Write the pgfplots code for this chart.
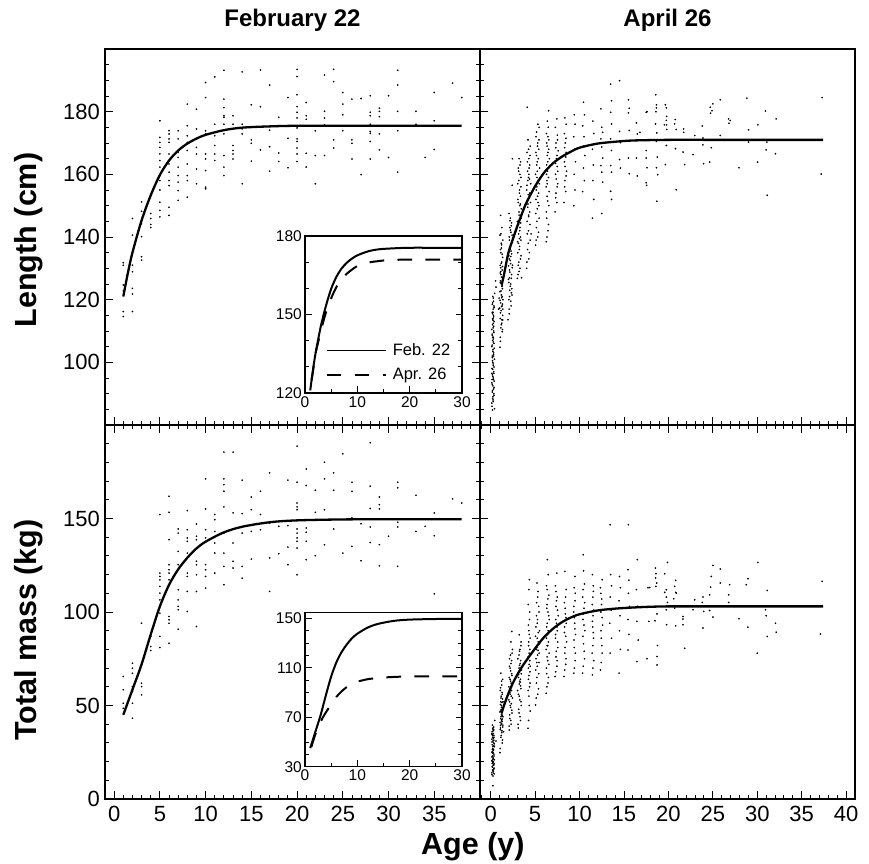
\documentclass[border=0pt]{standalone}
\usepackage{fontspec}
\setmainfont{Liberation Sans}
\usepackage{pgfplots}
\usepackage{pgfplotstable}
\pgfplotsset{compat=1.18}

% ---------- fitted curves ----------
\pgfplotstableread{
x y
1 121
1.5 128.5
2 135
3 145.3
4 153.3
5 159.8
6 164.4
7 167.6
8 169.8
9 171.4
10 172.6
12 174.1
14 174.9
17 175.3
20 175.5
25 175.5
30 175.5
38 175.5
}\febL
\pgfplotstableread{
x y
1.24 124.8
1.5 128
2 135
2.5 139.3
3 143.5
3.5 147.3
4 150.8
5 156.2
6 160.5
7 163.5
8 165.6
9 167.2
10 168.5
12 169.8
14 170.4
16 170.8
20 171
25 171
30 171
37.4 171
}\aprL
\pgfplotstableread{
x y
1 45
2 58.5
3 72
4 88
5 103
6 114.5
7 122.8
8 129
9 134
10 137.6
12 142.6
14 145.6
17 148
20 149
25 149.5
30 149.6
38 149.6
}\febM
\pgfplotstableread{
x y
1.23 46
1.5 50
2 56.5
2.5 62
3 66.5
3.5 70.5
4 74
5 80.5
6 86.5
7 91
8 94.5
9 97
10 98.8
12 100.8
14 101.8
16 102.4
18 102.8
20 103
25 103
30 103
37.4 103
}\aprM

% ---------- individual animals, February ----------
\pgfplotstableread{
x y
1 131.8
1 131.0
1 124.7
1 122.8
1 116.2
1 114.6
2 145.9
2 140.6
2 131.0
2 128.9
2 123.6
2 121.8
2 116.2
3 151.2
3 148.2
3 144.2
3 140.1
3 133.7
3 132.6
4 147.5
4 145.9
4 144.0
4 143.0
5 177.1
5 171.8
5 170.2
5 168.6
5 166.5
5 164.4
5 162.3
5 158
5 155
5 151.1
5 148.5
5 146.4
6 173.9
6 172.9
6 171.3
6 170.2
6 166.5
6 163.3
6 160.7
6 158.0
6 156.4
6 149.5
6 146.9
7 173.9
7 171.3
7 167.0
7 165.4
7 162.3
7 159.6
7 157.5
7 154.8
7 151.7
8 182.4
8 175.5
8 172.3
8 170.2
8 167.6
8 163.3
8 159.6
8 158.0
8 152.7
9 180.8
9 174.5
9 168.6
9 166.5
9 161.7
9 157.0
10 189.3
10 184.5
10 173.9
10 172.9
10 166.5
10 164.9
10 161.2
10 155.9
10 155.4
11 191.1
11 176.0
11 172.3
11 169.2
11 166.5
11 164.4
12 193.2
12 184.0
12 181.3
12 178.7
12 178.2
12 176.0
12 172.9
12 166.0
12 162.3
12 159.6
13 178.7
13 176.0
13 169.2
13 167.6
13 166.5
13 164.9
14 192.7
14 176.0
14 174.5
14 172.9
14 157.0
15 182.2
15 171.0
15 169.9
15 164.2
16 193.3
16 181.6
16 167.8
17 188.5
17 174.1
17 168.8
17 161.0
18 178.2
18 166.8
18 164.1
19 184.5
19 171.5
19 162.1
20 193.5
20 191.2
20 185.4
20 181.6
20 179.8
20 178.0
20 174.8
20 171.3
20 170.5
20 168.4
20 166.5
20 164.1
21 182.9
21 178.7
21 177.6
21 166.7
21 162.3
22 173.9
22 166.0
22 157.0
23 191.7
23 180.1
23 178.0
23 175.8
23 166.0
24 193.5
24 189.6
24 171.0
24 168.4
25 186.1
25 182.4
25 179.0
25 173.9
26 184.0
26 171.0
26 169.9
26 164.9
27 184.2
27 159.9
28 185.1
28 179.8
28 178.7
28 176.0
28 173.7
28 173.1
28 170.5
28 164.9
29 181.1
29 180.1
29 178.4
29 172.9
29 167.8
30 185.1
30 165.4
31 193.2
31 188.5
31 180.1
31 173.9
31 160.7
33 180.1
33 176.0
34 165.4
35 186.1
35 177.1
35 167.9
37 189.1
38 184.5
}\febLpts

\pgfplotstableread{
x y
1 65.5
1 58.4
1 51.2
1 48.5
2 72.6
2 69.9
2 67.2
2 60.1
2 57.5
2 51.2
2 43.2
3 94.0
3 61.9
3 60.1
3 55.7
4 86.9
4 81.5
4 79.4
5 152.1
5 120.8
5 119.0
5 117.2
5 113.7
5 110.1
5 106.5
5 103.0
5 99.4
5 87
5 81
6 161.9
6 153.3
6 138.7
6 125.3
6 122.6
6 120.8
6 117.2
6 97.6
6 95.8
6 94.0
6 83.3
7 144.4
7 142.2
7 132.4
7 125.3
7 122.6
7 111.9
7 106.5
7 103.0
7 101.2
7 90.8
8 154.2
8 144.0
8 139.6
8 137.8
8 131.5
8 120.8
8 119.0
8 111.0
8 100.3
9 147.1
9 140.5
9 138.7
9 127.1
9 125.3
9 119.9
9 111.0
9 92.2
10 171.2
10 155.1
10 144.0
10 139.6
10 125.3
10 122.6
10 119.0
10 112.8
11 152.1
11 149.4
11 143.1
11 136.9
11 131.5
11 120.8
12 185.5
12 171.2
12 168.1
12 164.6
12 156.2
12 142.2
12 131.5
12 124.4
12 114.6
13 185.5
13 153.0
13 136.9
13 127.1
13 123.5
14 170.5
14 152.6
14 142.2
14 124.4
14 118.1
15 161.5
15 154.7
15 143.1
15 128.3
16 164.6
16 152.1
16 144.0
17 174.4
17 147.6
17 128.9
17 111.0
18 145.8
18 131.2
19 170.5
19 146.2
19 134.7
19 125.3
20 188.7
20 169.4
20 158.3
20 156.2
20 154.7
20 144.4
20 142.2
20 139.6
20 137.8
20 134.2
20 119.9
21 176.5
21 167.6
21 144.9
21 142.6
21 137.8
21 128.0
22 165.1
22 153.3
22 130.1
23 180.1
23 171.2
23 154.7
23 136.0
24 174.4
24 165.1
24 144.4
25 184.6
25 131.5
26 169.4
26 164.6
26 150.3
26 135.1
27 147.2
27 127.4
28 190.5
28 167.3
28 155.3
28 145.5
28 137.2
29 161.5
29 157.4
29 155.1
29 136.0
29 124.7
30 140.5
31 169.4
31 166.4
31 148.0
31 145.5
31 124.4
33 162.4
33 143.1
34 145.8
35 153.0
35 140.8
35 109.7
37 160.5
38 158.3
}\febMpts

% ---------- individual animals, April ----------
\pgfplotstableread{
x y
0.15 86
0.30 87.5
0.22 88.5
0.38 89.5
0.18 90.5
0.33 91.5
0.25 92.5
0.12 93.5
0.40 94
0.28 95
0.20 96
0.35 97
0.15 98
0.30 99
0.24 100
0.42 101
0.18 102
0.33 103
0.26 104
0.14 105
0.38 106
0.22 107
0.30 108
0.17 109
0.35 110
0.27 111
0.20 112
0.40 113
0.25 114
0.32 115
0.18 116
0.28 117
0.37 118
0.22 119
0.30 120.5
0.45 122
0.60 124
0.55 126
0.20 100.5
0.36 96.5
0.16 94.5
0.29 106.5
0.34 111.5
0.21 115.5
0.26 89
0.23 97.8
0.31 102.5
0.19 108.6
0.27 113.4
1.05 104.8
1.10 106.7
1.30 109.8
1.15 111
1.25 112.5
1.08 114
1.35 115
1.18 116.5
1.28 118
1.12 119
1.38 120
1.20 121.5
1.05 122.5
1.32 123.5
1.22 125
1.10 126
1.40 127
1.16 128
1.30 129.5
1.08 131
1.25 132
1.35 133.5
1.14 135
1.22 136.5
1.05 140.6
1.12 146.9
1.18 138
1.28 124.2
1.02 117.3
1.36 113.5
0.95 120.5
0.90 117
1.24 120.6
1.14 130.2
1.95 113.6
2.10 115.5
2.30 118
2.05 120
2.40 121.5
2.15 123
2.25 125
2.00 126.5
2.35 128
2.12 129.5
2.45 131
2.20 132.5
2.05 134
2.30 135.5
2.18 137
2.40 138.5
2.08 140
2.28 141.5
2.15 143
2.35 144.5
2.22 146
2.42 156.5
2.45 165
2.02 130.8
2.33 122.2
2.26 133.8
2.12 127
3.00 126.8
3.20 129
3.10 131
3.35 133
3.05 135
3.25 137
3.40 139
3.15 141
3.30 143
3.00 145
3.20 147
3.45 149
3.10 151
3.35 153
3.25 155
3.05 157
3.40 159
3.15 161
3.30 163
3.20 165
3.28 150
3.12 138
3.38 144.5
3.48 127
4.05 130
4.30 133
4.15 136
4.45 139
4.25 142
4.10 145
4.40 148
4.20 150.5
4.35 152.5
4.05 155
4.50 157
4.25 159
4.15 161
4.40 163
4.30 165
4.10 167
4.45 169
4.20 171
4.12 181.4
4.38 154
4.28 146.5
4.55 141
4.18 158
4.32 162
5.05 137.4
5.30 140
5.15 143
5.45 146
5.25 149
5.10 152
5.40 154
5.20 156
5.35 158
5.05 160
5.50 162
5.25 164
5.15 166
5.40 168
5.30 170
5.10 172
5.45 175
5.22 159
5.33 151
5.18 163
6.25 138.5
6.45 142
6.30 146
6.55 150
6.35 153
6.25 156
6.50 159
6.40 161
6.30 163
6.60 165
6.45 167
6.35 169
6.55 171
6.28 173
6.48 175
6.38 177
6.52 180.3
6.42 164
6.32 158
7.25 148
7.45 151
7.35 154
7.55 157
7.30 160
7.50 162.5
7.40 165
7.60 167.5
7.35 170
7.50 172.5
7.28 175
7.45 177.7
8.25 151
8.45 154.5
8.35 158
8.55 161
8.30 164
8.50 167
8.40 170
8.30 173
8.50 176
8.35 178
9.35 150
9.50 155
9.40 160
9.55 164
9.45 168
9.35 172
9.50 176
9.40 179
10.35 154.5
10.55 158
10.45 162
10.60 166
10.40 169
10.50 172
10.35 175.5
10.55 179
10.45 183
11.45 146
11.60 152
11.50 158
11.55 163
11.45 168
11.60 173
11.50 177
12.4 180.9
12.5 175.0
12.6 173.4
12.4 171.3
12.5 168.7
12.6 165.2
12.4 162.8
12.5 160.7
12.6 157.5
12.5 147.5
13.5 188.8
13.6 183.5
13.5 179.8
13.6 176.1
13.5 171.3
13.6 167.6
13.5 162.8
13.6 160.7
13.5 154.6
13.6 152.0
14.5 189.9
14.5 173.7
14.6 170.1
14.5 164.7
14.6 162.0
15.5 183.8
15.6 181.1
15.5 179.6
15.6 174.0
15.5 165.2
15.6 160.2
16.4 176.4
16.5 172.9
16.4 165.2
16.5 159.5
16.8 173.4
17.5 179.8
17.6 180.0
17.5 167.6
17.5 165.2
17.6 162.1
17.5 157.3
17.55 156.5
18.57 185.4
18.65 182.2
18.65 181.2
18.6 180.0
18.55 176.1
18.7 173.2
18.65 170.5
18.75 165.5
18.65 162.1
18.8 159.9
18.7 151.4
19.66 182.2
19.77 181.2
19.8 178.5
19.77 177.2
19.8 175.8
19.55 175.8
19.82 174.3
19.77 169.2
19.66 163.1
20.78 177.5
20.7 176.1
20.88 174.3
20.8 168.2
20.88 155.1
21.72 174.5
21.72 173.4
21.65 167.1
21.83 163.1
22.77 166.3
22.96 172.4
23.81 175.4
23.89 171.6
23.89 169.4
23.96 163.4
24.71 181.4
25.01 182.5
24.9 180.3
24.75 179.5
24.83 168.5
24.65 163.9
25.84 183.8
25.84 172.4
26.77 177.7
26.96 177.2
26.81 176.3
27.94 162.1
28.83 184.3
29.02 174.2
29.02 170.3
30.07 175.8
30.03 163.9
30.93 180.2
31.0 167.8
31.12 153.3
31.08 170.3
32.05 166.6
32.13 177.7
37.3 184.5
37.19 160.1
}\aprLpts

\pgfplotstableread{
x y
0.13 87
0.27 88
0.35 90
0.21 91
0.39 92
0.17 93
0.31 94.5
0.24 95.5
0.14 96.5
0.37 98.5
0.28 99.5
0.19 101.5
0.33 102
0.25 103.5
0.41 104.5
0.16 105.5
0.30 107.5
0.23 108
0.36 109.5
0.13 110.5
0.29 112.5
0.21 113.8
0.34 114.5
0.26 116
0.39 117.5
0.18 118.5
0.31 119.5
0.24 121
0.43 85.2
0.20 84.8
1.07 108
1.33 110.5
1.19 112
1.26 113.6
1.11 115.8
1.37 117
1.23 117.8
1.06 119.8
1.31 121
1.17 122.8
1.27 124.6
1.09 125.4
1.39 126.2
1.21 127.2
1.13 129
1.34 130.6
1.19 131.6
1.29 134.5
1.10 136
1.23 137.5
1.37 139
1.16 141
1.26 143
1.08 128.5
1.32 118.6
2.08 117
2.27 119.5
2.13 121
2.38 123.5
2.20 124.3
2.04 125.5
2.32 126.8
2.16 128.8
2.42 130.2
2.24 131.5
2.09 133
2.36 134.6
2.19 136
2.29 137.8
2.11 139
2.41 140.6
2.23 142.2
2.31 143.6
2.17 145.2
2.06 147.5
3.08 128
3.30 130
3.17 132
3.42 134
3.22 136
3.03 138.5
3.36 140
3.27 142
3.13 144
3.44 146
3.19 148
3.33 150.5
3.06 152
3.24 154
3.41 156
3.16 158
3.29 160
3.11 162
3.37 164
3.23 139.5
4.08 132
4.36 135
4.22 138
4.12 141
4.42 144
4.27 147
4.17 149.5
4.48 151
4.23 153.5
4.08 156.5
4.37 158.5
4.30 160
4.13 164
4.43 166
4.27 168
5.12 139
5.38 141.5
5.20 145
5.08 147.5
5.43 150
5.28 153
5.13 155
5.47 157
5.24 161
5.36 165
5.09 167
5.27 169
5.44 171
5.17 173.5
5.32 176
6.33 140
6.50 144
6.27 148
6.42 151.5
6.58 154.5
6.36 157
6.29 160
6.47 162
6.37 166
6.53 168
6.31 170
6.44 172
7.32 152.5
7.48 156
7.38 158.5
7.55 161
7.30 163.5
7.46 166
7.33 168.5
7.52 171
8.33 156
8.48 159.5
8.36 162.5
8.45 165.5
8.32 168.5
8.47 171.5
}\aprLpx

\pgfplotstableread{
x y
0.15 13
0.30 14.5
0.22 15.5
0.38 16.5
0.18 17.5
0.33 18.5
0.25 19.5
0.12 20.5
0.40 21
0.28 22
0.20 23
0.35 24
0.15 25
0.30 26
0.24 27
0.42 28
0.18 29
0.33 30
0.26 31
0.14 32
0.38 33
0.22 34
0.30 35
0.17 36
0.35 37
0.27 38
0.20 39.5
0.25 7.1
0.28 21.5
0.19 26.5
0.36 31.5
0.23 24.5
0.32 18
0.60 31
0.45 42
0.21 20
0.34 28.5
0.16 34.5
1.05 24.8
1.30 30
1.15 33
1.25 35.5
1.08 37
1.35 38.5
1.18 40
1.28 41.5
1.12 43
1.38 44
1.20 45
1.05 46.5
1.32 47.5
1.22 49
1.10 50.5
1.40 52
1.16 54
1.30 56
1.08 58
1.25 61
1.35 64
1.14 67.3
1.22 42.2
1.10 39.3
1.30 44.6
1.45 36
1.18 47.9
1.27 51.6
2.10 36.9
2.30 40
2.15 43
2.40 46
2.25 49
2.12 52
2.45 54
2.20 56
2.35 58
2.05 60
2.30 62
2.18 64
2.40 66
2.25 68.5
2.12 71
2.35 74
2.22 77
2.45 80
2.28 84
2.38 89.6
2.15 57
2.32 51
3.10 38
3.35 42
3.20 46
3.45 50
3.28 53
3.12 56
3.40 59
3.22 61.5
3.35 64
3.15 66.5
3.48 69
3.25 71.5
3.38 74
3.18 77
3.30 80
3.42 84
3.22 87.8
3.32 62.5
3.26 68
4.20 37.8
4.45 47
4.30 55
4.38 60
4.25 64
4.42 68
4.32 72
4.22 76
4.40 80
4.28 84
4.35 88
4.25 93
4.40 100
4.30 112
4.35 117.3
4.45 71
5.05 50.3
5.30 56
5.15 62
5.40 67
5.25 71
5.10 75
5.45 78
5.20 81
5.35 84
5.05 87
5.50 90
5.25 94
5.15 98
5.40 103
5.30 108
5.22 115.5
5.33 79.5
5.18 73
6.25 56.5
6.45 62
6.30 67
6.55 72
6.35 76
6.25 80
6.50 84
6.40 88
6.30 92
6.60 96
6.45 100
6.35 104
6.55 109
6.28 114
6.48 120
6.38 128
6.42 82
7.25 65.5
7.45 71
7.35 76
7.55 81
7.30 86
7.50 90
7.40 94
7.60 98
7.35 103
7.50 108
7.28 114
7.45 120.8
8.25 65.5
8.45 72
8.35 78
8.55 84
8.30 89
8.50 94
8.40 99
8.30 105
8.50 112
8.35 121.7
9.35 67.3
9.50 74
9.40 81
9.55 88
9.45 94
9.35 100
9.50 106
9.40 113
9.48 119
10.35 67.3
10.55 75
10.45 83
10.60 90
10.40 96
10.50 102
10.35 108
10.55 115
10.45 122
10.42 130.6
11.45 66.4
11.60 74
11.50 82
11.55 89
11.45 95
11.60 101
11.50 108
11.55 114
11.45 120
12.35 69
12.55 78
12.45 86
12.60 93
12.40 100
12.50 107
12.35 113
12.55 117.3
13.45 78
13.60 86
13.40 94
13.55 101
13.45 108
13.60 114
13.50 120
13.45 146.7
14.45 67.3
14.60 80
14.50 90
14.55 98
14.45 106
14.60 113
14.50 119
15.45 79.7
15.55 88
15.45 96
15.60 103
15.50 110
15.55 117
15.45 122.6
15.50 146.7
16.45 73.5
16.60 85
16.45 95
16.55 103
16.40 112
16.50 128
17.6 75
17.8 95
17.7 113
17.9 113.1
18.54 123.5
18.6 120.5
18.56 118.2
18.68 115.5
18.6 113.7
19.59 120.5
19.89 126.5
19.77 111.9
19.59 110.5
19.77 108
19.89 105.1
19.77 103.3
19.77 101.2
18.72 99.0
18.5 95.3
19.8 93.2
18.78 82.1
18.72 76.2
18.72 71.7
20.82 116.9
20.71 113.7
20.82 110.5
20.9 110.1
20.6 107.1
20.71 102.1
20.82 92.6
21.64 97.6
21.64 96.2
21.64 93.2
21.83 80.6
22.96 106.5
22.77 101.2
23.89 108
23.82 105.1
23.97 100.3
23.89 91.4
25.01 124.9
24.83 119
24.75 113.3
24.64 109.2
24.83 103.3
24.64 100.8
25.01 97.3
25.84 123
25.84 115.5
26.89 114.6
26.78 109.2
26.78 105.1
27.94 96.4
28.95 117.8
28.76 114.6
28.95 91.9
30.0 78
30.07 126.5
30.93 101.2
31.0 98
31.12 111.5
31.12 86.9
32.05 94.0
32.13 89.2
37.3 116.4
37.11 88.2
}\aprMpts

\pgfplotstableread{
x y
0.13 14
0.27 15
0.35 16
0.21 17
0.39 18.8
0.17 19
0.31 20
0.24 21
0.14 22.5
0.37 23
0.28 24.8
0.19 25.5
0.33 26.5
0.25 28
0.41 29.5
0.16 30.5
0.30 32.5
0.23 33
0.36 34
0.13 35
0.29 36.5
0.21 37.5
0.34 38.5
0.26 12.3
0.39 13.5
1.07 27
1.33 31.5
1.19 34
1.26 36.5
1.11 38
1.37 39.5
1.23 40.5
1.06 41
1.31 42.8
1.17 44
1.27 45.5
1.09 47
1.39 48
1.21 50
1.13 52
1.34 53.5
1.19 55
1.29 57
1.10 59.5
1.23 63
2.08 39
2.27 42
2.13 45
2.38 47.5
2.20 50
2.04 53
2.32 55
2.16 59
2.42 61
2.24 63
2.09 65
2.36 67
2.19 70
2.29 72.5
2.11 75
2.41 78
3.08 40
3.30 44
3.17 48
3.42 52
3.22 55
3.03 58
3.36 60.5
3.27 63
3.13 65
3.44 67
3.19 70
3.33 72.5
3.06 75
3.24 79
3.41 82
4.27 42
4.35 50
4.22 58
4.43 62
4.30 66
4.24 70
4.40 74
4.33 78
4.26 82
4.44 86
4.30 90
4.37 96
4.23 104
5.12 54
5.38 59
5.20 65
5.08 69
5.43 73
5.28 77
5.13 80
5.47 83
5.24 86
5.36 89
5.09 92
5.27 96
5.44 100
5.17 105
5.32 111
6.33 60
6.50 65
6.27 70
6.42 74
6.58 78
6.36 82
6.29 86
6.47 90
6.37 94
6.53 98
6.31 102
6.44 107
6.35 112
7.32 68
7.48 74
7.38 79
7.55 84
7.30 88
7.46 92
7.33 96
7.52 101
7.40 106
7.35 111
8.33 69
8.48 75
8.36 81
8.45 87
8.32 92
8.47 97
8.38 102
8.43 108
9.42 70
9.52 78
9.38 85
9.48 91
9.42 97
9.36 103
9.52 110
10.42 71
10.52 79
10.38 87
10.50 93
10.44 99
10.58 105
10.40 112
11.50 70
11.42 78
11.58 86
11.48 92
11.52 98
11.44 104
11.56 111
12.45 73
12.52 82
12.42 90
12.55 97
12.48 104
12.40 110
}\aprMpx

\tikzset{
  ylab/.style={font=\bfseries\fontsize{30.5}{30.5}\selectfont, anchor=base},
  ttl/.style={font=\bfseries\fontsize{24}{24}\selectfont, at={(0.5,1)}, anchor=base, yshift=16pt},
}
\pgfplotsset{
  panel/.style={
    scale only axis, width=375pt,
    axis line style={line width=1.2pt},
    tick align=inside, major tick length=8pt, minor tick length=4pt,
    every tick/.style={black, line width=0.9pt},
    /pgf/number format/assume math mode=true,
    tick label style={font=\fontsize{22}{22}\selectfont, inner sep=0pt},
    yticklabel style={xshift=-5pt},
    xticklabel style={yshift=-7pt},
  },
  inset/.style={
    scale only axis, width=157pt, xmin=0, xmax=30,
    axis line style={line width=1.2pt},
    tick align=inside, major tick length=6.5pt, minor tick length=4pt,
    every tick/.style={black, line width=0.9pt},
    /pgf/number format/assume math mode=true,
    tick label style={font=\fontsize{15.5}{15.5}\selectfont, inner sep=0pt},
    yticklabel style={xshift=-3pt},
    xticklabel style={yshift=-3pt},
    xtick={0,10,20,30}, minor xtick={0,5,...,30},
    xtick pos=left, ytick pos=both,
    axis background/.style={fill=white},
  },
  dots/.style={only marks, mark=*, mark size=0.62pt, mark options={draw=none, fill=black}},
  fit/.style={black, line width=2.3pt, smooth, no marks},
}

\begin{document}
\begin{tikzpicture}
\useasboundingbox (0,0) rectangle (869pt,863pt);

% top-left: length, February
\begin{axis}[panel, at={(105pt,438pt)}, anchor=south west, height=376pt,
  xmin=-1, xmax=40, ymin=80, ymax=200,
  xtick={0,5,...,35}, minor xtick={-1,0,...,40}, xticklabels={}, xtick pos=left,
  ytick={100,120,...,180}, minor ytick={80,85,...,200}, ytick pos=both,
  title={February 22}, title style={ttl},
  ylabel={Length (cm)}, ylabel style={ylab, at={(axis description cs:-0.182,0.492)}}]
\addplot[dots] table {\febLpts};
\addplot[fit] table {\febL};
\end{axis}

% top-right: length, April
\begin{axis}[panel, at={(480pt,438pt)}, anchor=south west, height=376pt,
  xmin=-1.2, xmax=41, ymin=80, ymax=200,
  xtick={0,5,...,40}, minor xtick={-1,0,...,41}, xticklabels={}, xtick pos=left,
  ytick={100,120,...,180}, minor ytick={80,85,...,200}, yticklabels={}, ytick pos=left,
  title={April 26}, title style={ttl}]
\addplot[dots] table {\aprLpts};
\addplot[dots] table {\aprLpx};
\addplot[fit] table {\aprL};
\end{axis}

% bottom-left: mass, February
\begin{axis}[panel, at={(105pt,64pt)}, anchor=south west, height=374pt,
  xmin=-1, xmax=40, ymin=0, ymax=200,
  xtick={0,5,...,35}, minor xtick={-1,0,...,40}, xtick pos=both,
  ytick={0,50,100,150}, minor ytick={0,10,...,200}, ytick pos=both,
  ylabel={Total mass (kg)}, ylabel style={ylab, at={(axis description cs:-0.182,0.452)}},
  xlabel={Age (y)}, xlabel style={font=\bfseries\fontsize{30.5}{30.5}\selectfont, at={(axis description cs:0.981,-0.1497)}, anchor=base}]
\addplot[dots] table {\febMpts};
\addplot[fit] table {\febM};
\end{axis}

% bottom-right: mass, April
\begin{axis}[panel, at={(480pt,64pt)}, anchor=south west, height=374pt,
  xmin=-1.2, xmax=41, ymin=0, ymax=200,
  xtick={0,5,...,40}, minor xtick={-1,0,...,41}, xtick pos=both,
  ytick={0,50,100,150}, minor ytick={0,10,...,200}, yticklabels={}, ytick pos=left]
\addplot[dots] table {\aprMpts};
\addplot[dots] table {\aprMpx};
\addplot[fit] table {\aprM};
\end{axis}

% inset: length
\begin{axis}[inset, at={(305pt,470pt)}, anchor=south west, height=157pt,
  ymin=120, ymax=180, ytick={120,150,180}, minor ytick={120,130,...,180},
  legend style={draw=none, fill=none, at={(0.955,0.05)}, anchor=south east,
    font=\fontsize{16.5}{16.5}\selectfont, nodes={inner sep=1.5pt}, row sep=8pt},
  legend cell align=left,
  legend image code/.code={\draw[#1, line width=1.3pt] (0pt,0pt) -- (59pt,0pt); \path (63.5pt,0pt);}]
\addplot[black, line width=2pt, smooth] table {\febL};
\addplot[black, line width=2pt, smooth, dash pattern=on 14.7pt off 13.3pt] table {\aprL};
\legend{Feb. 22, Apr. 26}
\end{axis}

% inset: mass
\begin{axis}[inset, at={(305pt,96.3pt)}, anchor=south west, height=154.5pt,
  ymin=30, ymax=155, ytick={30,70,110,150}, minor ytick={30,40,...,150}]
\addplot[black, line width=2pt, smooth] table {\febM};
\addplot[black, line width=2pt, smooth, dash pattern=on 14.7pt off 13.3pt] table {\aprM};
\end{axis}
\end{tikzpicture}
\end{document}
